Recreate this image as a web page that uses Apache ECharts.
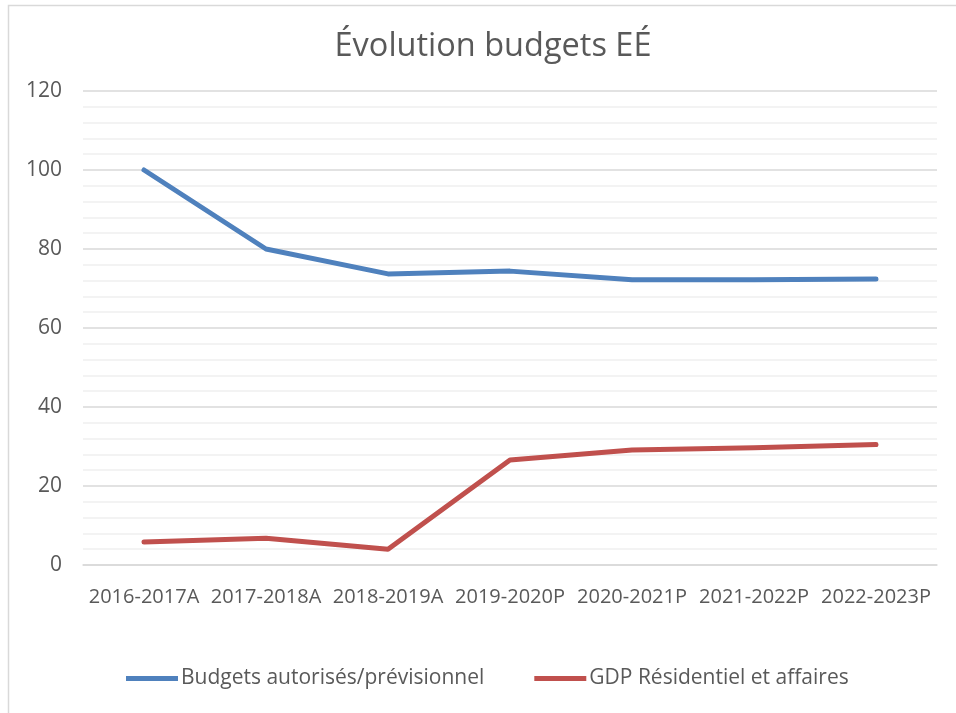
<!DOCTYPE html>
<html>
<head>
<meta charset="utf-8">
<script src="https://cdn.jsdelivr.net/npm/echarts@6/dist/echarts.min.js"></script>
<style>
  html, body { margin: 0; padding: 0; background: #fff; }
  #chart { width: 956px; height: 713px; }
</style>
</head>
<body>
<div id="chart"></div>
<script>
// données
var categories = ['2016-2017A', '2017-2018A', '2018-2019A', '2019-2020P', '2020-2021P', '2021-2022P', '2022-2023P'];
var budgets = [100, 80, 73.7, 74.4, 72.2, 72.2, 72.4];
var gdp = [5.8, 6.8, 4.0, 26.6, 29.1, 29.7, 30.5];
var seriesNames = ['Budgets autorisés/prévisionnel', 'GDP Résidentiel et affaires'];

var FONT = 'Open Sans';
var TEXT_COLOR = '#595959';

var myChart = echarts.init(document.getElementById('chart'));
var option = {
    animation: false,
    title: {
        text: 'Évolution budgets EÉ',
        left: 488,
        textAlign: 'center',
        top: 25,
        textStyle: { fontFamily: FONT, fontSize: 32.5, fontWeight: 'normal', color: TEXT_COLOR }
    },
    graphic: [{
        type: 'rect',
        silent: true,
        shape: { x: 8.5, y: 5.5, width: 1000, height: 1000 },
        style: { fill: 'none', stroke: '#d9d9d9', lineWidth: 1.5 }
    }],
    legend: {
        bottom: 19,
        left: 121,
        icon: 'rect',
        itemWidth: 52,
        itemHeight: 5,
        itemGap: 50,
        textStyle: { fontFamily: FONT, fontSize: 21, color: TEXT_COLOR, padding: [0, 0, 0, -2] },
        data: seriesNames
    },
    grid: { left: 83, right: 19, top: 91, bottom: 148 },
    xAxis: {
        type: 'category',
        data: categories,
        boundaryGap: true,
        axisLine: { lineStyle: { color: '#d9d9d9', width: 1.5 } },
        axisTick: { show: false },
        axisLabel: { fontFamily: FONT, fontSize: 20, color: TEXT_COLOR, margin: 22, interval: 0 }
    },
    yAxis: {
        type: 'value',
        min: 0,
        max: 120,
        interval: 20,
        axisLine: { show: false },
        axisTick: { show: false },
        axisLabel: { fontFamily: FONT, fontSize: 21, color: TEXT_COLOR, margin: 21 },
        splitLine: { lineStyle: { color: '#d9d9d9', width: 1.5 } },
        minorTick: { show: false, splitNumber: 5 },
        minorSplitLine: { show: true, lineStyle: { color: '#f0f0f0', width: 1.5 } }
    },
    series: [
        {
            name: seriesNames[0],
            type: 'line',
            data: budgets,
            symbol: 'none',
            color: '#4f81bd',
            lineStyle: { width: 5, cap: 'round', join: 'round' }
        },
        {
            name: seriesNames[1],
            type: 'line',
            data: gdp,
            symbol: 'none',
            color: '#c0504d',
            lineStyle: { width: 5, cap: 'round', join: 'round' }
        }
    ]
};
myChart.setOption(option);
</script>
</body>
</html>
